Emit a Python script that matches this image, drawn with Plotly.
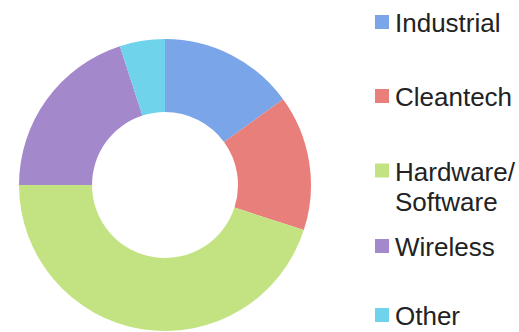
import plotly.graph_objects as go

# ---- data ----
categories = ["Industrial", "Cleantech", "Hardware/Software", "Wireless", "Other"]
legend_lines = [["Industrial"], ["Cleantech"], ["Hardware/", "Software"], ["Wireless"], ["Other"]]
shares = [15, 15, 45, 20, 5]
colors = ["#7aa6e9", "#e97f7a", "#c3e383", "#a488cc", "#6fd3ec"]

W, H = 519, 332

fig = go.Figure(go.Pie(
    labels=categories,
    values=shares,
    hole=0.5,
    sort=False,
    direction="clockwise",
    rotation=0,
    marker=dict(colors=colors, line=dict(width=0)),
    textinfo="none",
    hoverinfo="label+percent",
    domain=dict(x=[19 / W, 311 / W], y=[1 - 331 / H, 1 - 39 / H]),
    showlegend=False,
))

# legend drawn to the right, matching the reference spacing
item_centers = [22, 96, 170.5, 246, 315]
shapes = []
annotations = []
for lines, col, yc in zip(legend_lines, colors, item_centers):
    shapes.append(dict(type="rect", xref="paper", yref="paper",
                       x0=375 / W, x1=389 / W, y0=1 - (yc + 7) / H, y1=1 - (yc - 7) / H,
                       fillcolor=col, line=dict(width=0)))
    for i, txt in enumerate(lines):
        ty = yc + i * 30
        ypos = max(1 - (ty + 1) / H, 15.5 / H)
        annotations.append(dict(text=txt, xref="paper", yref="paper",
                                x=394 / W, y=ypos, xanchor="left", yanchor="middle",
                                showarrow=False, borderpad=0,
                                font=dict(family="Liberation Sans, Arial, sans-serif", size=26, color="#222222")))

fig.update_layout(
    width=W, height=H,
    margin=dict(l=0, r=0, t=0, b=0),
    paper_bgcolor="white", plot_bgcolor="white",
    shapes=shapes, annotations=annotations,
)

fig.write_html("out.html")
